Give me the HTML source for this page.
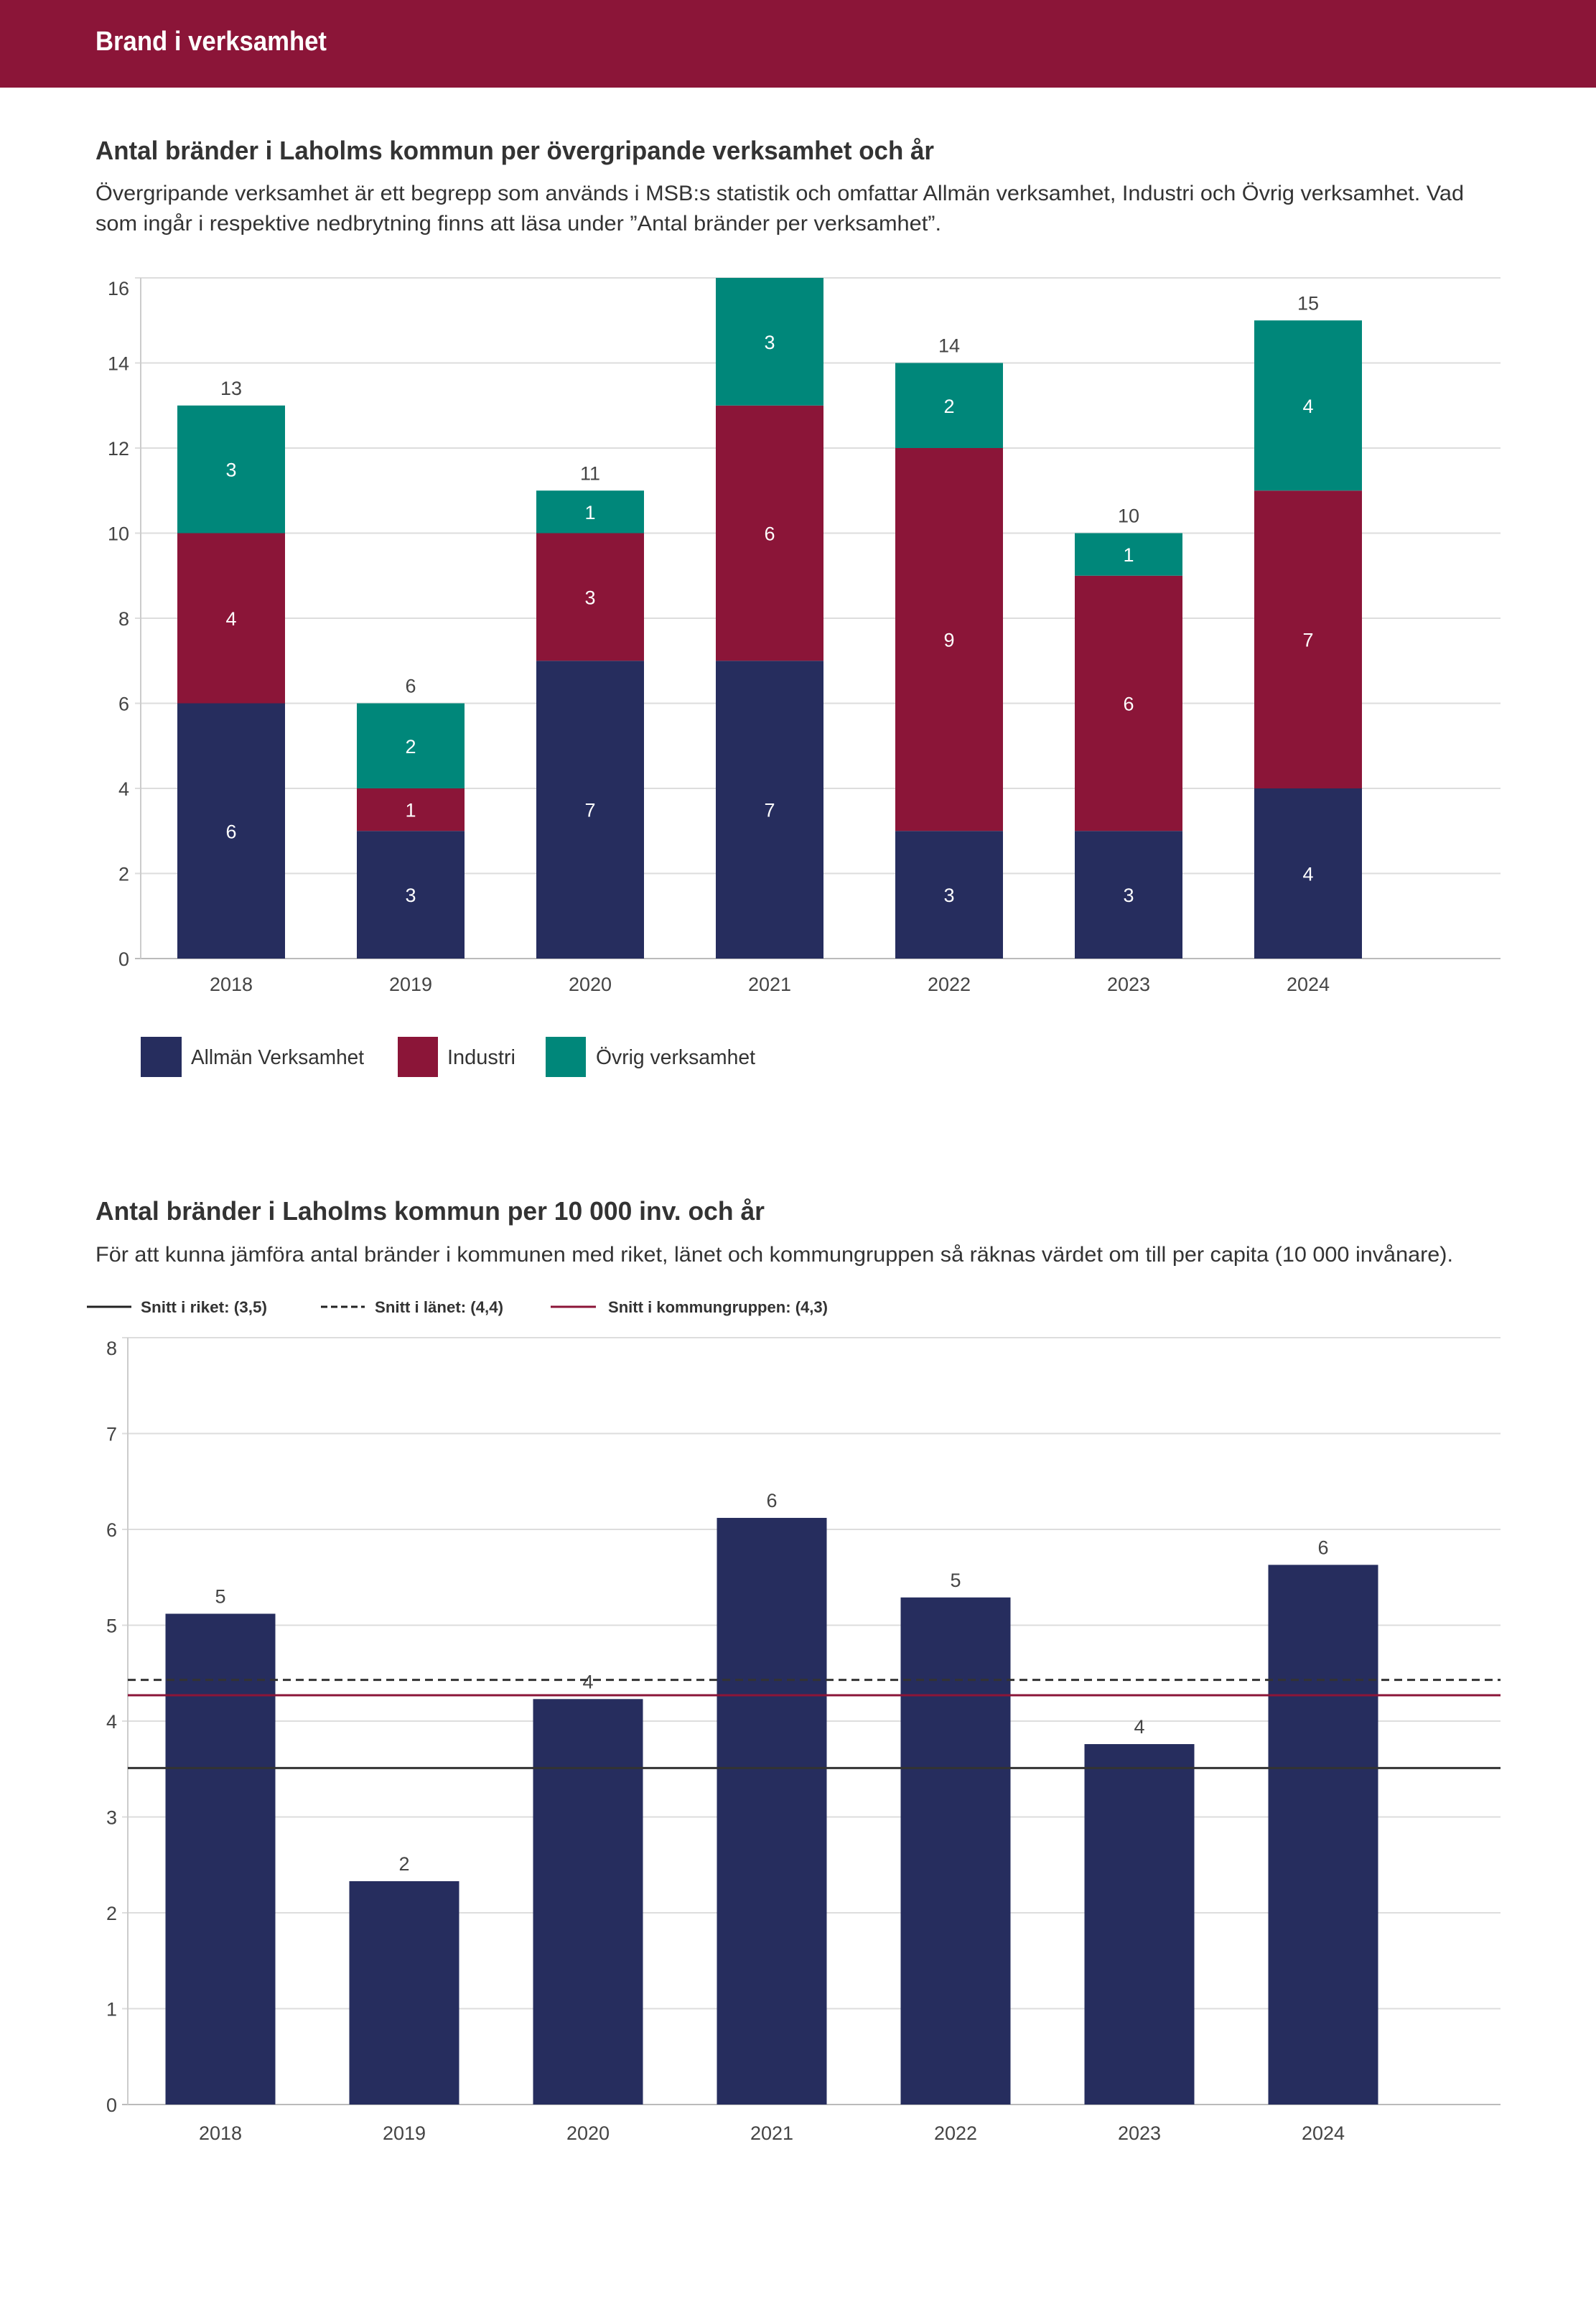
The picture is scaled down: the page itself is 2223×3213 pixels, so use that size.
<!DOCTYPE html>
<html><head><meta charset="utf-8"><style>
html,body{margin:0;padding:0;background:#fff}
svg{display:block}
text{font-family:"Liberation Sans",sans-serif}
</style></head><body>
<svg id="page" width="2223" height="3213" viewBox="0 0 2223 3213" xmlns="http://www.w3.org/2000/svg">
<rect x="0" y="0" width="2223" height="122" fill="#8b1538"/>
<text x="133" y="70" font-size="38" fill="#fff" font-weight="bold" textLength="322" lengthAdjust="spacingAndGlyphs">Brand i verksamhet</text>

<text x="133" y="222" font-size="36" fill="#333" font-weight="bold" textLength="1168" lengthAdjust="spacingAndGlyphs">Antal bränder i Laholms kommun per övergripande verksamhet och år</text>
<text x="133" y="279" font-size="30" fill="#333" textLength="1906" lengthAdjust="spacingAndGlyphs">Övergripande verksamhet är ett begrepp som används i MSB:s statistik och omfattar Allmän verksamhet, Industri och Övrig verksamhet. Vad</text>
<text x="133" y="321" font-size="30" fill="#333" textLength="1178" lengthAdjust="spacingAndGlyphs">som ingår i respektive nedbrytning finns att läsa under ”Antal bränder per verksamhet”.</text>

<g id="chart1"></g>

<rect x="196" y="1444" width="57" height="56" fill="#262d5e"/>
<text x="266" y="1482" font-size="29" fill="#333" textLength="241" lengthAdjust="spacingAndGlyphs">Allmän Verksamhet</text>
<rect x="554" y="1444" width="56" height="56" fill="#8b1538"/>
<text x="623" y="1482" font-size="29" fill="#333" textLength="95" lengthAdjust="spacingAndGlyphs">Industri</text>
<rect x="760" y="1444" width="56" height="56" fill="#00877a"/>
<text x="830" y="1482" font-size="29" fill="#333" textLength="222" lengthAdjust="spacingAndGlyphs">Övrig verksamhet</text>

<text x="133" y="1699" font-size="36" fill="#333" font-weight="bold" textLength="932" lengthAdjust="spacingAndGlyphs">Antal bränder i Laholms kommun per 10 000 inv. och år</text>
<text x="133" y="1757" font-size="30" fill="#333" textLength="1891" lengthAdjust="spacingAndGlyphs">För att kunna jämföra antal bränder i kommunen med riket, länet och kommungruppen så räknas värdet om till per capita (10 000 invånare).</text>

<line x1="121" y1="1820" x2="183" y2="1820" stroke="#222" stroke-width="3"/>
<text x="196" y="1828" font-size="22" font-weight="bold" fill="#333" textLength="176" lengthAdjust="spacingAndGlyphs">Snitt i riket: (3,5)</text>
<line x1="447" y1="1820" x2="508" y2="1820" stroke="#222" stroke-width="3" stroke-dasharray="9,5"/>
<text x="522" y="1828" font-size="22" font-weight="bold" fill="#333" textLength="179" lengthAdjust="spacingAndGlyphs">Snitt i länet: (4,4)</text>
<line x1="767" y1="1820" x2="830" y2="1820" stroke="#8b1538" stroke-width="3"/>
<text x="847" y="1828" font-size="22" font-weight="bold" fill="#333" textLength="306" lengthAdjust="spacingAndGlyphs">Snitt i kommungruppen: (4,3)</text>

<g id="chart2"></g>
</svg>
<script>
const NS="http://www.w3.org/2000/svg";
// Chart 1 data
const years=["2018","2019","2020","2021","2022","2023","2024"];
const allman=[6,3,7,7,3,3,4];
const industri=[4,1,3,6,9,6,7];
const ovrig=[3,2,1,3,2,1,4];
const ticks1=[0,2,4,6,8,10,12,14,16];
// Chart 2 data
const perCapita=[5.12,2.33,4.23,6.12,5.29,3.76,5.63];
const perCapitaLabels=["5","2","4","6","5","4","6"];
const ticks2=[0,1,2,3,4,5,6,7,8];
const snittRiket=3.51;
const snittLanet=4.43;
const snittKommungrupp=4.27;

function mk(tag,attrs,parent,txt){const e=document.createElementNS(NS,tag);for(const k in attrs)e.setAttribute(k,attrs[k]);if(txt!==undefined)e.textContent=txt;parent.appendChild(e);return e;}

// chart 1
(function(){
const g=document.getElementById('chart1');
const x0=196,x1=2090,yBase=1335,yTop=387,max=16;
const y=v=>yBase-(yBase-yTop)*v/max;
const cx=i=>322+250*i;const bw=150;
ticks1.forEach(t=>{
 const l=mk('line',{x1:x0-8,x2:x1,y1:y(t),y2:y(t),stroke:t===0?'#bbb':'#ddd','stroke-width':2},g);
 
 
 const dy=(t===max)?24:10;
 const tx=mk('text',{x:180,y:y(t)+dy,'font-size':27,fill:'#444','text-anchor':'end'},g,String(t));
 
 
});
const ax=mk('line',{x1:x0,x2:x0,y1:yTop,y2:yBase,stroke:'#ccc','stroke-width':2},g);


const series=[[allman,'#262d5e','allman'],[industri,'#8b1538','industri'],[ovrig,'#00877a','ovrig']];
years.forEach((yr,i)=>{
 let acc=0;
 series.forEach(([arr,col,nm])=>{
  const v=arr[i];const top=y(acc+v),bot=y(acc);
  const r=mk('rect',{x:cx(i)-bw/2,y:top,width:bw,height:bot-top,fill:col},g);
  
  
  const t=mk('text',{x:cx(i),y:(top+bot)/2+10,'font-size':27,fill:'#fff','text-anchor':'middle'},g,String(v));
  
  
  acc+=v;
 });
 if(acc<max){
  const tt=mk('text',{x:cx(i),y:y(acc)-15,'font-size':27,fill:'#444','text-anchor':'middle'},g,String(acc));
  
  
 }
 const xl=mk('text',{x:cx(i),y:1380,'font-size':27,fill:'#444','text-anchor':'middle'},g,yr);
 
 
});
})();

// chart 2
(function(){
const g=document.getElementById('chart2');
const x0=178,x1=2090,yBase=2931,yTop=1863,max=8;
const y=v=>yBase-(yBase-yTop)*v/max;
const cx=i=>307+256*i;const bw=153;
ticks2.forEach(t=>{
 const l=mk('line',{x1:x0-8,x2:x1,y1:y(t),y2:y(t),stroke:t===0?'#bbb':'#ddd','stroke-width':2},g);
 
 
 const dy=(t===max)?24:10;
 const tx=mk('text',{x:163,y:y(t)+dy,'font-size':27,fill:'#444','text-anchor':'end'},g,String(t));
 
 
});
const ax=mk('line',{x1:x0,x2:x0,y1:yTop,y2:yBase,stroke:'#ccc','stroke-width':2},g);


years.forEach((yr,i)=>{
 const v=perCapita[i];
 const r=mk('rect',{x:cx(i)-bw/2,y:y(v),width:bw,height:yBase-y(v),fill:'#262d5e'},g);
 
 
 const t=mk('text',{x:cx(i),y:y(v)-15,'font-size':27,fill:'#444','text-anchor':'middle'},g,perCapitaLabels[i]);
 
 
 const xl=mk('text',{x:cx(i),y:2980,'font-size':27,fill:'#444','text-anchor':'middle'},g,yr);
 
 
});
const l1=mk('line',{x1:x0,x2:x1,y1:y(snittLanet),y2:y(snittLanet),stroke:'#333','stroke-width':3,'stroke-dasharray':'11,7'},g);


const l2=mk('line',{x1:x0,x2:x1,y1:y(snittKommungrupp),y2:y(snittKommungrupp),stroke:'#8b1538','stroke-width':3},g);


const l3=mk('line',{x1:x0,x2:x1,y1:y(snittRiket),y2:y(snittRiket),stroke:'#333','stroke-width':3},g);


})();
</script>
</body></html>
